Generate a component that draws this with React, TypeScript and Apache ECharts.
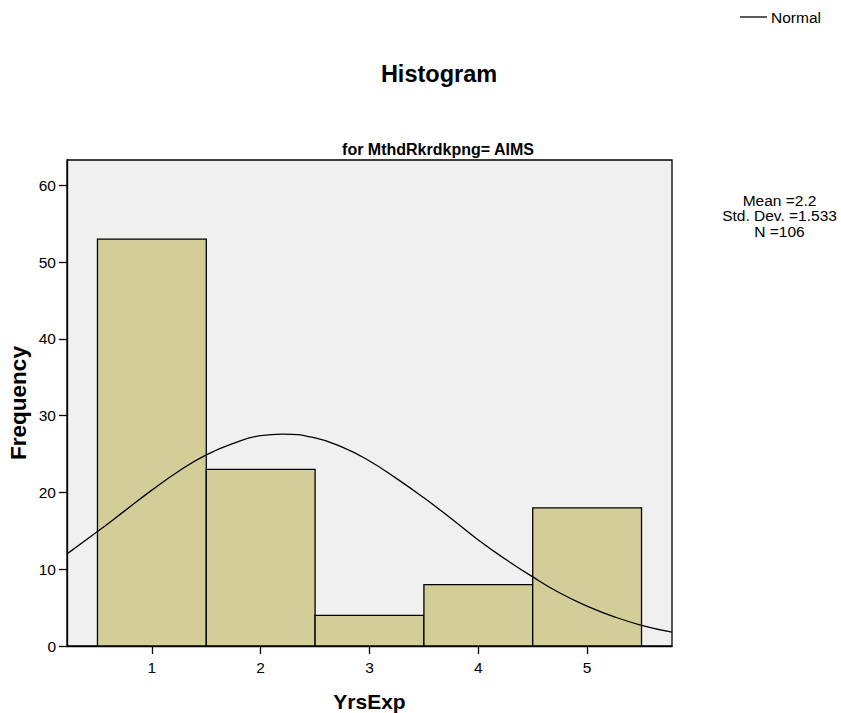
import React, { useEffect, useRef } from "react";
import * as echarts from "echarts";

const binStarts = [0.5, 1.5, 2.5, 3.5, 4.5];
const binEnds = [1.5, 2.5, 3.5, 4.5, 5.5];
const frequencies = [53, 23, 4, 8, 18];
const xTicks = [1, 2, 3, 4, 5];
const yTicks = [0, 10, 20, 30, 40, 50, 60];
const normalX = [0.22, 0.5, 0.75, 1.0, 1.25, 1.5, 1.75, 2.0, 2.2, 2.5, 2.75, 3.0, 3.25, 3.5, 3.75, 4.0, 4.25, 4.5, 4.75, 5.0, 5.25, 5.5, 5.78];
const normalY = [12.0, 14.9, 17.6, 20.3, 22.8, 24.9, 26.4, 27.4, 27.6, 27.1, 25.9, 24.1, 21.8, 19.3, 16.6, 13.8, 11.3, 9.0, 6.9, 5.2, 3.8, 2.7, 1.8];
const statsLines = ["Mean =2.2", "Std. Dev. =1.533", "N =106"];

const FONT = 'Arial, "Liberation Sans", sans-serif';

export default function App() {
  const ref = useRef<HTMLDivElement>(null);
  useEffect(() => {
    if (!ref.current) return;
    const chart = echarts.init(ref.current, null, { renderer: "svg" });
    const barData = binStarts.map((s, i) => [s, binEnds[i], frequencies[i]]);
    const lineData = normalX.map((x, i) => [x, normalY[i]]);
    chart.setOption({
      animation: false,
      backgroundColor: "#ffffff",
      textStyle: { fontFamily: FONT },
      title: [
        {
          text: "Histogram",
          left: 434,
          top: 57,
          textAlign: "center",
          textStyle: { fontSize: 23.5, fontWeight: "bold", color: "#000", fontFamily: FONT },
        },
        {
          text: "for MthdRkrdkpng= AIMS",
          left: 433,
          top: 136,
          textAlign: "center",
          textStyle: { fontSize: 16, fontWeight: "bold", color: "#000", fontFamily: FONT },
        },
      ],
      graphic: statsLines.map((line, i) => ({
        type: "text",
        x: 779.5,
        y: 200 + i * 15.5,
        style: {
          text: line,
          font: `15.5px ${FONT}`,
          fill: "#000",
          align: "center",
          verticalAlign: "middle",
        },
      })),
      legend: {
        left: 735,
        top: 4,
        itemWidth: 27,
        itemHeight: 1.3,
        itemGap: 4,
        icon: "rect",
        data: [{ name: "Normal", icon: "rect", itemStyle: { color: "#000" } }],
        textStyle: { fontSize: 15.5, color: "#000", fontFamily: FONT, padding: [0, 0, 0, -1] },
      },
      grid: {
        left: 67,
        top: 160,
        width: 605,
        height: 486,
        outerBoundsMode: "none",
        containLabel: false,
        show: true,
        backgroundColor: "#f0f0f0",
        borderColor: "#000",
        borderWidth: 1.3,
      },
      xAxis: {
        type: "value",
        min: 0.22,
        max: 5.78,
        name: "YrsExp",
        nameLocation: "middle",
        nameGap: 45,
        nameTextStyle: { fontSize: 21, fontWeight: "bold", color: "#000", fontFamily: FONT },
        splitLine: { show: false },
        axisLine: { show: true, lineStyle: { color: "#000", width: 1.3 } },
        axisTick: { show: true, customValues: xTicks, length: 8, lineStyle: { color: "#000", width: 1.3 } },
        axisLabel: { customValues: xTicks, fontSize: 15.5, color: "#000", margin: 13, fontFamily: FONT },
      },
      yAxis: {
        type: "value",
        min: 0,
        max: 63.3,
        name: "Frequency",
        nameLocation: "middle",
        nameGap: 37,
        nameMoveOverlap: false,
        nameTextStyle: { fontSize: 22.5, fontWeight: "bold", color: "#000", fontFamily: FONT },
        splitLine: { show: false },
        axisLine: { show: true, lineStyle: { color: "#000", width: 1.3 } },
        axisTick: { show: true, customValues: yTicks, length: 8, lineStyle: { color: "#000", width: 1.3 } },
        axisLabel: { customValues: yTicks, fontSize: 15.5, color: "#000", margin: 11, fontFamily: FONT },
      },
      series: [
        {
          type: "custom",
          name: "Bars",
          data: barData,
          encode: { x: [0, 1], y: 2 },
          renderItem: (params: any, api: any) => {
            const p0 = api.coord([api.value(0), api.value(2)]);
            const p1 = api.coord([api.value(1), 0]);
            return {
              type: "rect",
              shape: { x: p0[0], y: p0[1], width: p1[0] - p0[0], height: p1[1] - p0[1] },
              style: { fill: "#d3ce98", stroke: "#000", lineWidth: 1.3 },
            };
          },
          z: 2,
        },
        {
          type: "line",
          name: "Normal",
          data: lineData,
          smooth: true,
          symbol: "none",
          showSymbol: false,
          lineStyle: { color: "#000", width: 1.3 },
          itemStyle: { color: "#000" },
          z: 3,
        },
      ],
    });
    return () => chart.dispose();
  }, []);
  return <div ref={ref} style={{ position: "absolute", left: 0, top: 0, width: 841, height: 713 }} />;
}
